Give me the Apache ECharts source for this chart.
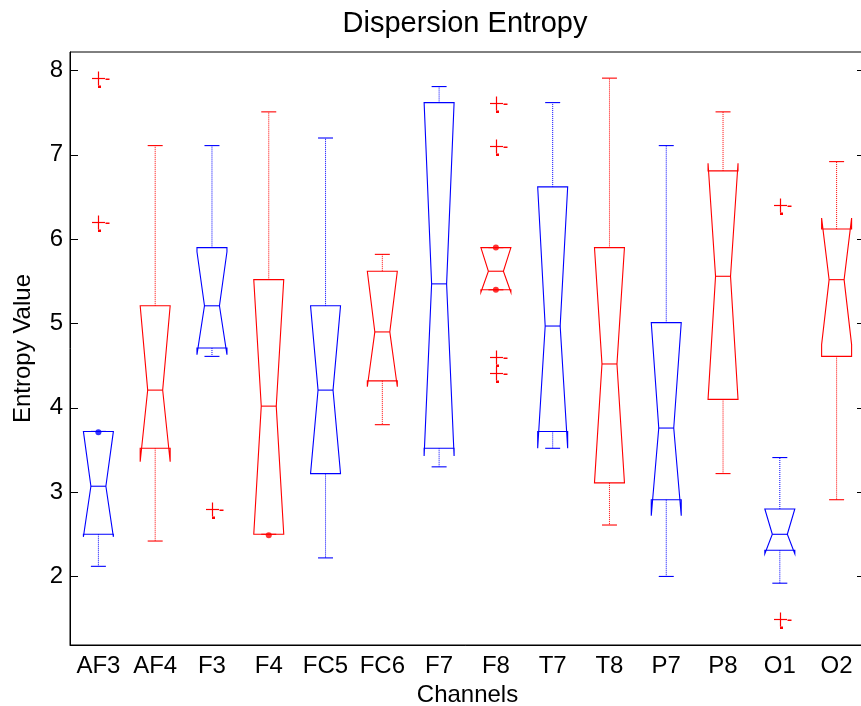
<!DOCTYPE html>
<html>
<head>
<meta charset="utf-8">
<script src="https://cdn.jsdelivr.net/npm/echarts@6/dist/echarts.min.js"></script>
<style>
html,body{margin:0;padding:0;background:#fff;}
#chart{width:861px;height:706px;}
</style>
</head>
<body>
<div id="chart"></div>
<script>
// ---- data ----
var categories = ['AF3','AF4','F3','F4','FC5','FC6','F7','F8','T7','T8','P7','P8','O1','O2'];
var whiskerLow  = [2.12, 2.42, 4.61, 2.50, 2.22, 3.80, 3.30, 5.40, 3.52, 2.61, 2.00, 3.22, 1.92, 2.91];
var q1          = [2.50, 3.52, 4.71, 2.50, 3.22, 4.32, 3.52, 5.40, 3.72, 3.11, 2.91, 4.10, 2.31, 4.61];
var medians     = [3.07, 4.21, 5.21, 4.02, 4.21, 4.90, 5.47, 5.62, 4.97, 4.52, 3.76, 5.56, 2.50, 5.52];
var q3          = [3.72, 5.21, 5.90, 5.52, 5.21, 5.62, 7.62, 5.90, 6.62, 5.90, 5.01, 6.81, 2.80, 6.12];
var whiskerHigh = [3.72, 7.11, 7.11, 7.51, 7.20, 5.82, 7.81, 5.90, 7.62, 7.91, 7.11, 7.51, 3.41, 6.92];
var notchLow    = [2.47, 3.36, 4.63, 2.50, 3.22, 4.25, 3.43, 5.37, 3.52, 3.11, 2.72, 4.10, 2.27, 4.75];
var notchHigh   = [3.72, 5.21, 5.85, 5.52, 5.21, 5.62, 7.62, 5.90, 6.62, 5.90, 5.01, 6.90, 2.80, 6.25];

var outlierChannels = ['AF3','AF3','F3','F8','F8','F8','F8','O1','O1'];
var outlierValues   = [7.91, 6.20, 2.80, 7.61, 7.11, 4.60, 4.41, 6.40, 1.50];

var markChannels = ['AF3','F4','F8','F8'];
var markValues   = [3.71, 2.49, 5.90, 5.40];

var yTicks = [2, 3, 4, 5, 6, 7, 8];

// ---- build ----
var BLUE = '#0000ff', RED = '#ff0000';
function colorOf(i){ return i % 2 === 0 ? BLUE : RED; }

var boxData = categories.map(function(c, i){
  return [i, whiskerLow[i], q1[i], medians[i], q3[i], whiskerHigh[i], notchLow[i], notchHigh[i]];
});
var outlierData = outlierChannels.map(function(c, k){ return [categories.indexOf(c), outlierValues[k]]; });
var markData = markChannels.map(function(c, k){
  var i = categories.indexOf(c);
  return { value: [i, markValues[k]], itemStyle: { color: colorOf(i) } };
});

function renderBox(params, api){
  var i = api.value(0);
  var band = api.size([1, 0])[0];
  var hw = band * 0.264;
  var x = api.coord([i, 0])[0];
  function Y(v){ return api.coord([i, v])[1]; }
  var wl = api.value(1), b1 = api.value(2), md = api.value(3), b3 = api.value(4),
      wh = api.value(5), nl = api.value(6), nh = api.value(7);
  var col = colorOf(i);
  var solid = { stroke: col, lineWidth: 1.1, fill: null };
  var dashed = { stroke: col, lineWidth: 1, lineDash: [1, 1], fill: null };
  var children = [];
  children.push({ type: 'polygon', shape: { points: [
      [x - hw, Y(b1)], [x - hw, Y(nl)], [x - hw / 2, Y(md)], [x - hw, Y(nh)], [x - hw, Y(b3)],
      [x + hw, Y(b3)], [x + hw, Y(nh)], [x + hw / 2, Y(md)], [x + hw, Y(nl)], [x + hw, Y(b1)]
    ] }, style: solid });
  children.push({ type: 'line', shape: { x1: x - hw / 2, y1: Y(md), x2: x + hw / 2, y2: Y(md) }, style: solid });
  if (wh > b3) {
    children.push({ type: 'line', shape: { x1: x, y1: Y(b3), x2: x, y2: Y(wh) }, style: dashed });
  }
  children.push({ type: 'line', shape: { x1: x - hw / 2, y1: Y(wh), x2: x + hw / 2, y2: Y(wh) }, style: solid });
  if (wl < b1) {
    children.push({ type: 'line', shape: { x1: x, y1: Y(b1), x2: x, y2: Y(wl) }, style: dashed });
  }
  children.push({ type: 'line', shape: { x1: x - hw / 2, y1: Y(wl), x2: x + hw / 2, y2: Y(wl) }, style: solid });
  return { type: 'group', children: children };
}

function renderOutlier(params, api){
  var p = api.coord([api.value(0), api.value(1)]);
  var x = Math.round(p[0]) + 0.5, y = Math.round(p[1]) + 0.5;
  var st = { stroke: RED, lineWidth: 1.2 };
  return { type: 'group', children: [
    { type: 'line', shape: { x1: x - 6.5, y1: y, x2: x + 6.5, y2: y }, style: st },
    { type: 'line', shape: { x1: x, y1: y - 7, x2: x, y2: y + 7 }, style: st },
    { type: 'rect', shape: { x: x + 7, y: y, width: 4, height: 1.5 }, style: { fill: RED } },
    { type: 'rect', shape: { x: x - 0.5, y: y + 7, width: 3, height: 2.5 }, style: { fill: RED } }
  ] };
}

var chart = echarts.init(document.getElementById('chart'), null, { renderer: 'canvas' });
var FONT = '"Liberation Sans", Arial, Helvetica, sans-serif';
chart.setOption({
  animation: false,
  backgroundColor: '#fff',
  textStyle: { fontFamily: FONT },
  title: {
    text: 'Dispersion Entropy',
    left: 460, top: 4, textAlign: 'center',
    textStyle: { fontFamily: FONT, fontSize: 29, fontWeight: 'normal', color: '#000' }
  },
  grid: { left: 70, right: -4, top: 52, bottom: 61, show: true, borderColor: '#000', borderWidth: 1,
          backgroundColor: 'transparent', containLabel: false, outerBoundsMode: 'none' },
  xAxis: {
    type: 'category', data: categories, boundaryGap: true,
    axisLine: { show: true, lineStyle: { color: '#000', width: 1 } },
    axisTick: { show: false },
    axisLabel: { color: '#000', fontSize: 24, fontFamily: FONT, margin: 9, interval: 0 },
    splitLine: { show: false },
    name: 'Channels', nameLocation: 'middle', nameGap: 18,
    nameTextStyle: { color: '#000', fontSize: 24, fontFamily: FONT }
  },
  yAxis: [{
    type: 'value', min: 1.187, max: 8.22, position: 'left',
    axisLine: { show: true, lineStyle: { color: '#000', width: 1 } },
    axisTick: { show: true, inside: true, length: 8, customValues: yTicks, lineStyle: { color: '#000' } },
    axisLabel: { color: '#000', fontSize: 24, fontFamily: FONT, margin: 7, customValues: yTicks },
    splitLine: { show: false },
    name: 'Entropy Value', nameLocation: 'middle', nameGap: 35, nameRotate: 90,
    nameTextStyle: { color: '#000', fontSize: 24, fontFamily: FONT }
  }, {
    type: 'value', min: 1.187, max: 8.22, position: 'right',
    axisLine: { show: true, lineStyle: { color: '#000', width: 1 } },
    axisTick: { show: true, inside: true, length: 8, customValues: yTicks, lineStyle: { color: '#000' } },
    axisLabel: { show: false },
    splitLine: { show: false }
  }],
  series: [{
    type: 'custom', name: 'box', renderItem: renderBox, data: boxData,
    encode: { x: 0, y: [1, 2, 3, 4, 5] }, z: 2
  }, {
    type: 'custom', name: 'outliers', renderItem: renderOutlier, data: outlierData,
    encode: { x: 0, y: 1 }, z: 3
  }, {
    type: 'scatter', name: 'marks', data: markData, symbol: 'circle', symbolSize: 6, z: 4
  }]
});
</script>
</body>
</html>
